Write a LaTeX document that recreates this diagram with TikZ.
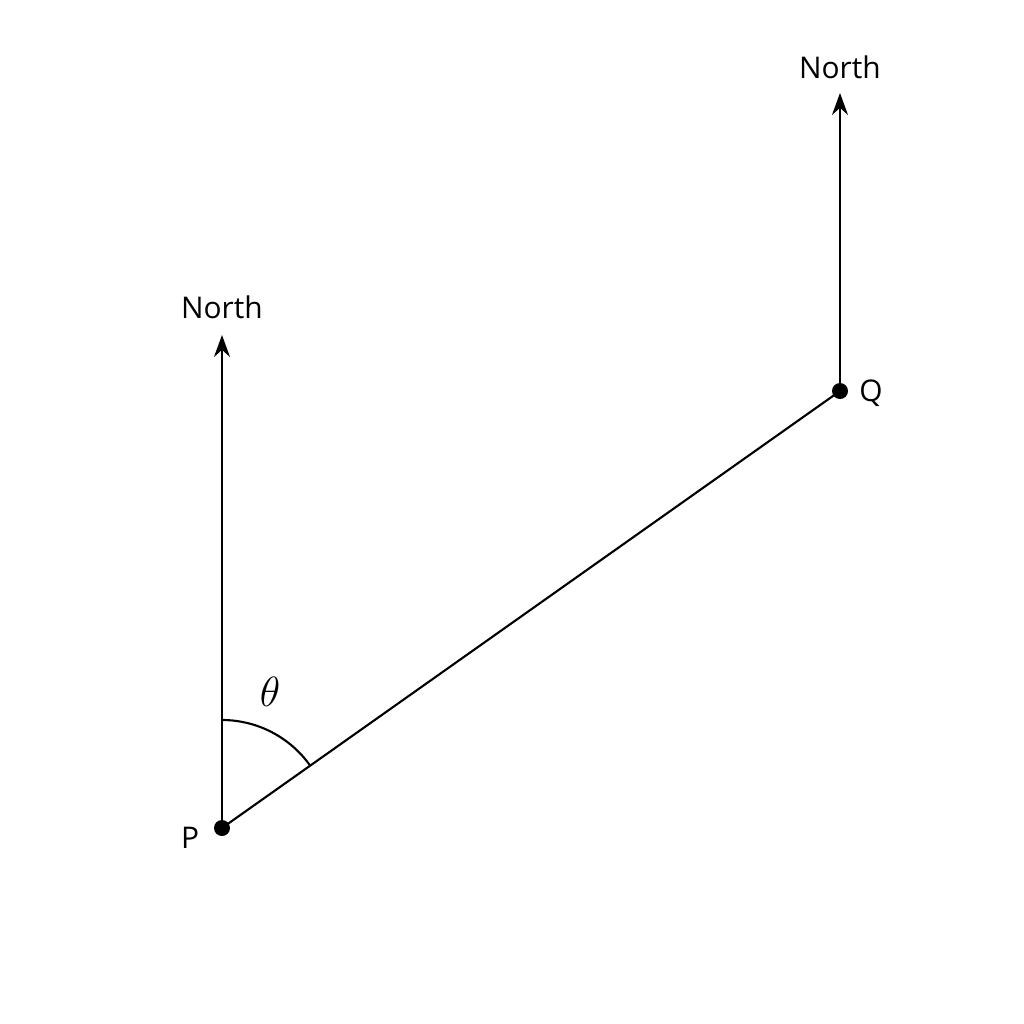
\documentclass[tikz,border=0pt]{standalone}
\usepackage{fontspec}
\setmainfont{Open Sans}
\usetikzlibrary{arrows.meta}
\begin{document}
\begin{tikzpicture}[line width=.6pt,
  lbl/.style={font=\fontsize{8.5}{10}\selectfont},
  dot/.style={circle,fill=black,inner sep=0pt,minimum size=1.6mm},
  northarrow/.style={-{Stealth[length=2.2mm,width=1.6mm]}}]
\useasboundingbox (0,0) rectangle (10.24,-10.24);
\node[dot] (P) at (2.22,-8.28) {};
\node[dot] (Q) at (8.40,-3.91) {};
\coordinate (nP) at (2.22,-3.35);
\coordinate (nQ) at (8.40,-0.93);
\node[lbl] (northP) at (2.22,-3.07) {North};
\node[lbl] (northQ) at (8.40,-0.67) {North};
\node[lbl] (labP) at (1.90,-8.38) {P};
\node[lbl] (labQ) at (8.71,-3.93) {Q};
\draw[northarrow] (P.center) -- (nP);
\draw[northarrow] (Q.center) -- (nQ);
\draw (P.center) -- (Q.center);
% angle from north to PQ
\draw (2.22,-7.20) arc[start angle=90,end angle=35.27,radius=1.08];
\node[font=\large] (theta) at (2.70,-6.92) {$\theta$};
\end{tikzpicture}
\end{document}
